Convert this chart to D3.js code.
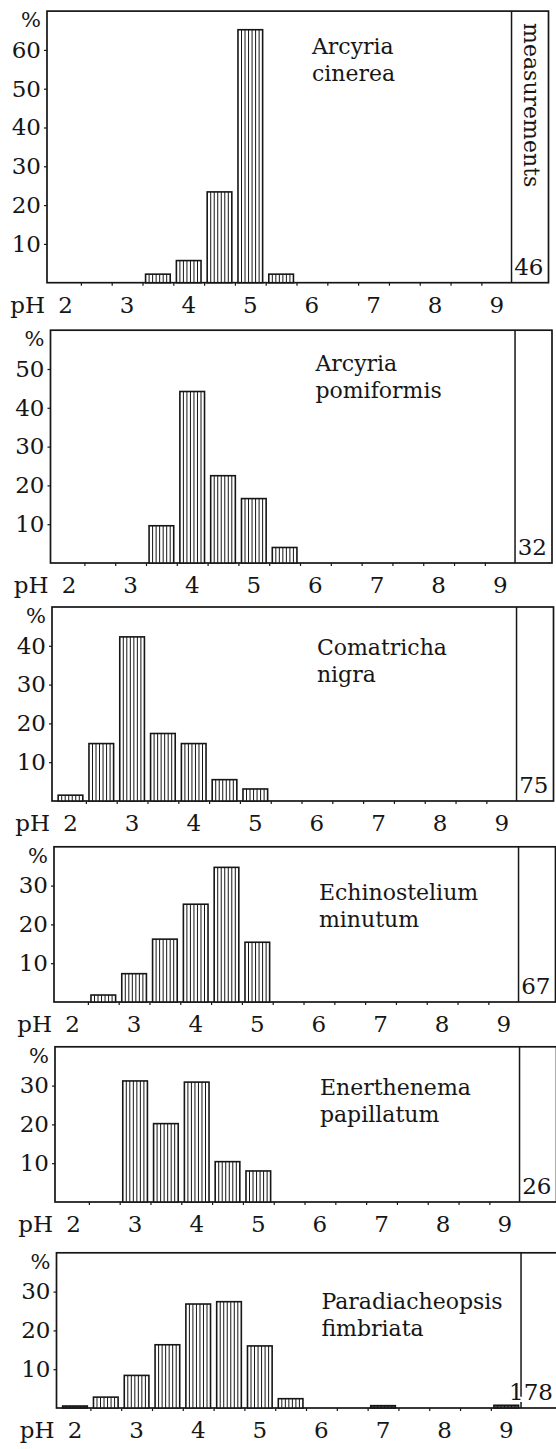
<!DOCTYPE html>
<html>
<head>
<meta charset="utf-8">
<script src="https://cdnjs.cloudflare.com/ajax/libs/d3/7.8.5/d3.min.js"></script>
<style>
  body { margin: 0; background: #fff; }
  svg text { font-family: "DejaVu Serif", serif; fill: #161616; }
</style>
</head>
<body>
<svg id="chart" width="556" height="1449"></svg>
<script>
const speciesGenus = ["Arcyria", "Arcyria", "Comatricha", "Echinostelium", "Enerthenema", "Paradiacheopsis"];
const speciesEpithet = ["cinerea", "pomiformis", "nigra", "minutum", "papillatum", "fimbriata"];
const measurements = [46, 32, 75, 67, 26, 178];
const yMax = [70, 60, 50, 40, 40, 40];
const xTickLabels = [2, 3, 4, 5, 6, 7, 8, 9];
const binEdges = [2.25, 2.75, 3.25, 3.75, 4.25, 4.75, 5.25, 5.75, 6.25, 6.75, 7.25, 7.75, 8.25, 8.75];

const phCinerea = [3.5, 4, 4.5, 5, 5.5];
const pctCinerea = [2.2, 5.7, 23.4, 65.2, 2.2];
const phPomiformis = [3.5, 4, 4.5, 5, 5.5];
const pctPomiformis = [9.6, 44.2, 22.5, 16.6, 4.0];
const phNigra = [2, 2.5, 3, 3.5, 4, 4.5, 5];
const pctNigra = [1.5, 14.8, 42.3, 17.4, 14.8, 5.5, 3.1];
const phMinutum = [2.5, 3, 3.5, 4, 4.5, 5];
const pctMinutum = [1.8, 7.3, 16.2, 25.2, 34.7, 15.4];
const phPapillatum = [3, 3.5, 4, 4.5, 5];
const pctPapillatum = [31.2, 20.2, 30.9, 10.4, 8.0];
const phFimbriata = [2, 2.5, 3, 3.5, 4, 4.5, 5, 5.5, 7, 9];
const pctFimbriata = [0.5, 2.8, 8.4, 16.3, 26.8, 27.4, 16.0, 2.4, 0.6, 0.7];

const phSeries = [phCinerea, phPomiformis, phNigra, phMinutum, phPapillatum, phFimbriata];
const pctSeries = [pctCinerea, pctPomiformis, pctNigra, pctMinutum, pctPapillatum, pctFimbriata];

// layout (the scanned page is a little skewed, so each panel sits slightly further right)
const panelBase = [282.7, 563, 801, 1002, 1202, 1408];
const panelLeft = [47, 50.5, 52, 54, 55, 56.5];
const nameOffset = [43, 41, 48, 53, 48, 56];
const unitPx = 3.88;          // px per percent
const panelWidth = 501.5;
const phDomain = [1.7, 9.84];
const dividerPh = 9.24;
const barHalf = 0.2;
const ink = "#161616";

const svg = d3.select("#chart");

speciesGenus.forEach((genus, i) => {
  const L = panelLeft[i];
  const base = panelBase[i];
  const x = d3.scaleLinear().domain(phDomain).range([L, L + panelWidth]);
  const y = d3.scaleLinear().domain([0, yMax[i]]).range([base, base - yMax[i] * unitPx]);
  const top = y(yMax[i]);
  const right = x(phDomain[1]);

  const g = svg.append("g");

  // frame + column for the number of measurements
  g.append("rect")
    .attr("x", L).attr("y", top)
    .attr("width", right - L).attr("height", base - top)
    .attr("fill", "none").attr("stroke", ink).attr("stroke-width", 1.7);
  g.append("line")
    .attr("x1", x(dividerPh)).attr("x2", x(dividerPh))
    .attr("y1", top).attr("y2", base)
    .attr("stroke", ink).attr("stroke-width", 1.5);

  // y axis
  const yAxis = g.append("g")
    .attr("transform", `translate(${L},0)`)
    .call(d3.axisLeft(y).tickValues(d3.range(10, yMax[i], 10)).tickSize(3).tickPadding(3).tickFormat(d3.format("d")));
  yAxis.select(".domain").remove();
  yAxis.selectAll(".tick line").attr("stroke", ink).attr("stroke-width", 1.2);
  yAxis.selectAll(".tick text")
    .attr("font-family", "DejaVu Serif").attr("font-size", 23).attr("fill", ink);

  g.append("text")
    .attr("x", L - 6).attr("y", top + 16)
    .attr("text-anchor", "end").attr("font-size", 21)
    .text("%");

  // x axis: small marks at the class boundaries, labels at whole pH
  const xAxis = g.append("g")
    .attr("transform", `translate(0,${base})`)
    .call(d3.axisBottom(x).tickValues(binEdges).tickSize(3).tickFormat(""));
  xAxis.select(".domain").remove();
  xAxis.selectAll(".tick line").attr("stroke", ink).attr("stroke-width", 1.2);

  g.selectAll(".phlab")
    .data(xTickLabels)
    .join("text")
    .attr("class", "phlab")
    .attr("x", d => x(d)).attr("y", base + 30)
    .attr("text-anchor", "middle").attr("font-size", 23)
    .text(d => d);
  g.append("text")
    .attr("x", L - 2).attr("y", base + 30)
    .attr("text-anchor", "end").attr("font-size", 23)
    .text("pH");

  // bars
  const bars = phSeries[i].map((ph, k) => ({ ph, pct: pctSeries[i][k] }));
  const barTop = d => Math.min(y(d.pct), base - 2);

  g.selectAll(".bar")
    .data(bars)
    .join("rect")
    .attr("class", "bar")
    .attr("x", d => x(d.ph - barHalf))
    .attr("y", barTop)
    .attr("width", d => x(d.ph + barHalf) - x(d.ph - barHalf))
    .attr("height", d => base - barTop(d))
    .attr("fill", d => d.pct < 1 ? "#555" : "#fff")
    .attr("stroke", ink).attr("stroke-width", 1.6);

  // vertical hatching inside each bar
  const hatch = bars.flatMap(d => d3.range(1, 7).map(k => ({ d, k })));
  g.selectAll(".hatch")
    .data(hatch)
    .join("line")
    .attr("class", "hatch")
    .attr("x1", h => x(h.d.ph - barHalf) + h.k * (x(h.d.ph + barHalf) - x(h.d.ph - barHalf)) / 7)
    .attr("x2", h => x(h.d.ph - barHalf) + h.k * (x(h.d.ph + barHalf) - x(h.d.ph - barHalf)) / 7)
    .attr("y1", h => barTop(h.d))
    .attr("y2", base)
    .attr("stroke", ink).attr("stroke-width", 1);

  // species name
  const name = g.append("text")
    .attr("x", x(6.0)).attr("y", top + nameOffset[i])
    .attr("font-size", 22);
  name.append("tspan").attr("x", x(6.0)).text(genus);
  name.append("tspan").attr("x", x(6.0)).attr("dy", 27).text(speciesEpithet[i]);

  // number of measurements
  g.append("text")
    .attr("x", right - 5).attr("y", base - 8)
    .attr("text-anchor", "end").attr("font-size", 23)
    .attr("stroke", "#fff").attr("stroke-width", 4).attr("paint-order", "stroke")
    .text(measurements[i]);

  if (i === 0) {
    const cx = x(dividerPh) + 12;
    g.append("text")
      .attr("transform", `translate(${cx},${top + 12}) rotate(90)`)
      .attr("font-size", 22)
      .text("measurements");
  }
});
</script>
</body>
</html>
